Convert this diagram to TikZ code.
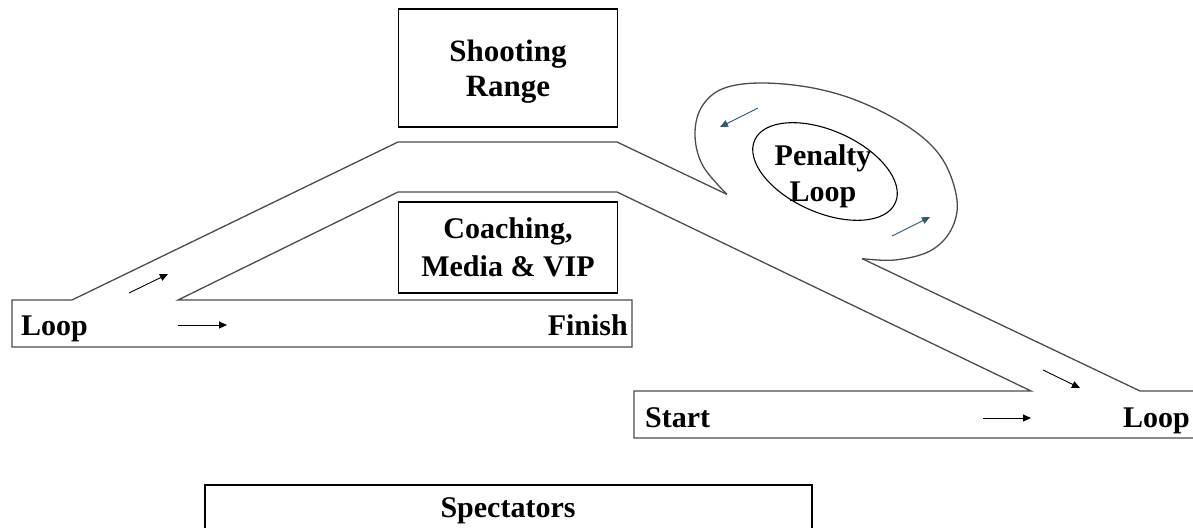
\documentclass[tikz,border=0pt]{standalone}
\usepackage{fontspec}
\setmainfont{Liberation Serif}
\usetikzlibrary{arrows.meta}
\definecolor{loopteal}{HTML}{2B5B78}
\tikzstyle{every node}=[font=\bfseries\fontsize{30}{35}\selectfont, inner sep=0pt]
\tikzstyle{area}=[draw=black, line width=1.3pt, minimum width=219pt, align=center]
\tikzstyle{fence}=[draw=black, line width=1.3pt]
\tikzstyle{track}=[draw=black!70, line width=1.3pt, line join=miter]
\tikzstyle{dir}=[-{Triangle[length=8pt,width=7pt]}, line width=0.9pt]
\tikzstyle{loopdir}=[dir, draw=loopteal, fill=loopteal]

\begin{document}
\begin{tikzpicture}[x=1pt,y=-1pt]
  \useasboundingbox (0,0) rectangle (1193,527);
  \clip (0,0) rectangle (1193,527);

  % buildings
  \node[area, minimum height=118pt, font=\bfseries\fontsize{31}{35}\selectfont] (range) at (508,68) {};
  \node[align=center, font=\bfseries\fontsize{31}{35}\selectfont] (rangetxt) at (508,72) {Shooting\\Range};
  \node[area, minimum height=91pt, font=\bfseries\fontsize{30}{38}\selectfont] (coach) at (508,247.5) {Coaching,\\Media \& VIP};
  \draw[fence] (205,485) rectangle (812,545);
  \node (spect) at (508,511) {Spectators};

  % track corners
  \coordinate (lobend) at (72,300);
  \coordinate (libend) at (178,300);
  \coordinate (otop1) at (398,142);
  \coordinate (otop2) at (617,142);
  \coordinate (itop1) at (398,192);
  \coordinate (itop2) at (617,192);
  \coordinate (ibend) at (1031,391);
  \coordinate (obend) at (1140,391);
  \coordinate (pA) at (727,194.4);
  \coordinate (pB) at (862,258.6);

  % track
  \draw[track] (lobend) -- (12,300) -- (12,347) -- (632,347) -- (632,300) -- (libend)
     -- (itop1) -- (itop2) -- (ibend) -- (634,391) -- (634,438) -- (1200,438);
  \draw[track] (lobend) -- (otop1) -- (otop2) -- (pA);
  \draw[track] (pB) -- (obend) -- (1200,391);
  \draw[track] plot[smooth, tension=0.6] coordinates {(727,194.4) (703,166) (695,136)
     (701,108) (722,89) (760,83) (813,88) (863,103) (913,130) (943,160) (957,200)
     (951,230) (930,251) (895,260) (862,258.6)};

  % penalty loop
  \coordinate (pen) at (825,171.5);
  \draw[fence, line width=1.1pt, rotate around={-24:(pen)}] (pen) ellipse [x radius=77, y radius=41];
  \node[align=center, font=\bfseries\fontsize{30}{36}\selectfont] (penalty) at (823,176) {Penalty\\Loop};

  % labels
  \node[anchor=base west] (loopin) at (21,335) {Loop};
  \node[anchor=base east] (finish) at (628,335) {Finish};
  \node[anchor=base west] (start) at (645,427) {Start};
  \node[anchor=base east] (loopout) at (1190,427) {Loop};

  % direction
  \draw[dir] (129,293) -- (168,274);
  \draw[dir] (178,325) -- (227,325);
  \draw[dir] (1043,370) -- (1080,388);
  \draw[dir] (983,418) -- (1031,418);
  \draw[loopdir] (758,108) -- (720,127);
  \draw[loopdir] (892,236) -- (930,217);
\end{tikzpicture}
\end{document}
